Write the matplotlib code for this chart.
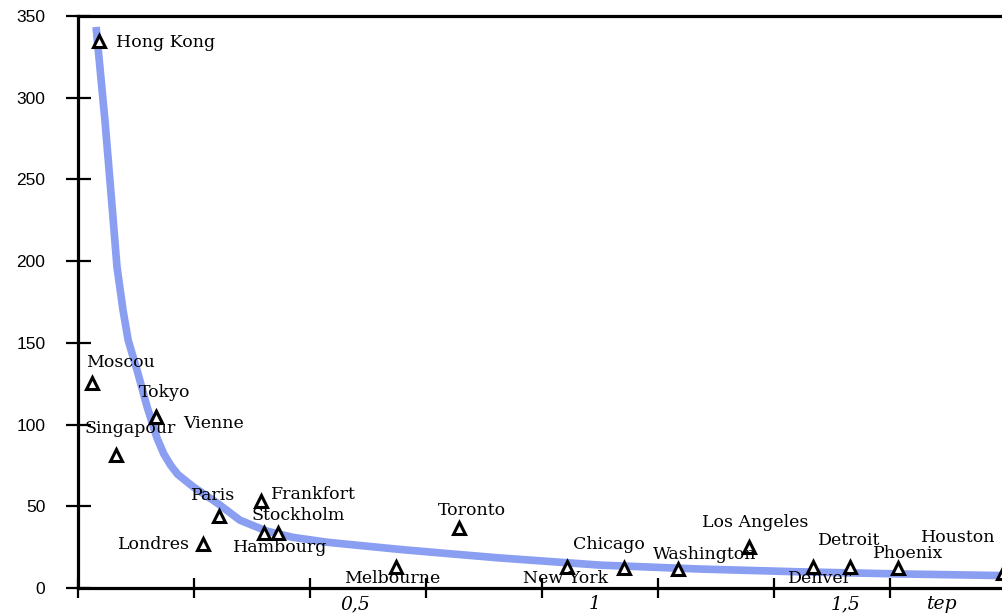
#!/usr/bin/env python3
"""Densité urbaine vs consommation d'énergie (tep) : villes + courbe de tendance."""

import matplotlib
matplotlib.use("Agg")
import matplotlib.pyplot as plt

# --- data -----------------------------------------------------------------
cities = ["Hong Kong", "Moscou", "Singapour", "Tokyo", "Vienne", "Paris",
          "Londres", "Frankfort", "Stockholm", "Hambourg", "Melbourne",
          "Toronto", "New York", "Chicago", "Washington", "Los Angeles",
          "Denver", "Detroit", "Phoenix", "Houston"]
energy_tep = [0.045, 0.030, 0.082, 0.168, 0.168, 0.304,
              0.269, 0.394, 0.401, 0.431, 0.685,
              0.821, 1.054, 1.177, 1.293, 1.446,
              1.584, 1.664, 1.767, 1.994]
density = [334.7, 125.4, 81.4, 104.7, 104.7, 44.1,
           26.9, 53.2, 33.7, 33.7, 12.9,
           36.7, 12.9, 12.2, 11.6, 25.1,
           12.9, 12.9, 12.2, 9.2]

# label anchor (left edge, vertical centre) in data units
label_x = [0.082, 0.017, 0.013, 0.131, 0.226, 0.244,
           0.086, 0.416, 0.373, 0.334, 0.573,
           0.776, 0.959, 1.067, 1.239, 1.345,
           1.530, 1.595, 1.713, 1.817]
label_y = [333.5, 137.7, 97.3, 119.9, 100.4, 56.9,
           26.9, 57.5, 44.1, 24.5, 6.1,
           47.7, 6.1, 26.9, 20.2, 39.8,
           6.1, 28.8, 21.4, 31.2]

# trend curve
curve_x = [0.039, 0.058, 0.075, 0.084, 0.097, 0.108, 0.129, 0.149, 0.170,
           0.185, 0.200, 0.215, 0.248, 0.300, 0.349, 0.407, 0.463, 0.537,
           0.608, 0.694, 0.800, 0.909, 1.125, 1.341, 1.556, 1.772, 1.994]
curve_y = [343.3, 286.4, 228.3, 196.5, 170.1, 151.8, 131.6, 110.8, 92.0,
           82.0, 75.0, 69.5, 62.0, 52.0, 41.5, 34.8, 31.0, 28.0,
           26.0, 23.6, 21.0, 18.4, 14.0, 11.6, 9.9, 8.6, 7.6]

y_ticks = [0, 50, 100, 150, 200, 250, 300, 350]
x_marks = [0, 0.25, 0.5, 0.75, 1.0, 1.25, 1.5, 1.75]
x_label_pos = [0.597, 1.114, 1.655, 1.864]
x_label_txt = ["0,5", "1", "1,5", "tep"]


def main():
    fig = plt.figure(figsize=(10.03, 6.15), dpi=100)
    W, H = 1003, 615
    ax = fig.add_axes([78 / W, (H - 588) / H, (W - 78) / W, (588 - 16) / H])

    ax.plot(curve_x, curve_y, color="#8a9ef2", lw=5.5, solid_capstyle="butt",
            solid_joinstyle="round", zorder=2)
    ax.plot(energy_tep, density, ls="none", marker="^", ms=8.5,
            mfc="white", mec="black", mew=2.2, zorder=3)

    for name, lx, ly in zip(cities, label_x, label_y):
        ax.text(lx, ly, name, ha="left", va="center", fontsize=12.5,
                family="DejaVu Serif", color="black", zorder=4)

    ax.set_xlim(0, 1.994)
    ax.set_ylim(0, 350)

    for s in ["left", "bottom", "top"]:
        ax.spines[s].set_linewidth(2.3)
    ax.spines["right"].set_visible(False)

    ax.set_yticks(y_ticks)
    ax.set_yticklabels([str(v) for v in y_ticks], family="Liberation Sans",
                       fontsize=12.5)
    ax.tick_params(axis="y", direction="inout", length=18, width=1.6, pad=14.5)

    ax.set_xticks(x_marks)
    ax.set_xticklabels([])
    ax.tick_params(axis="x", which="major", direction="inout", length=14,
                   width=1.6)
    ax.set_xticks(x_label_pos, minor=True)
    ax.set_xticklabels(x_label_txt, minor=True, family="DejaVu Serif",
                       style="italic", fontsize=13.5)
    ax.tick_params(axis="x", which="minor", length=0, pad=5)

    fig.savefig("out.png", dpi=100)
    plt.close(fig)


if __name__ == "__main__":
    main()
